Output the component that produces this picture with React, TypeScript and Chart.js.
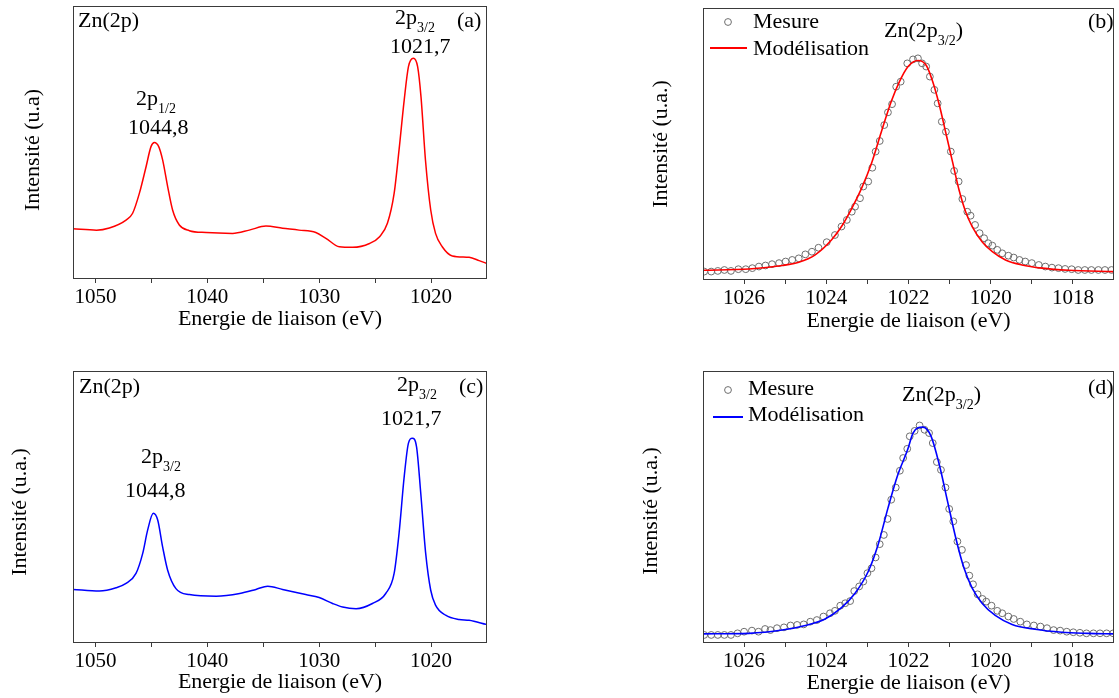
import React, { useEffect, useRef } from "react";
import { Chart, registerables } from "chart.js";
Chart.register(...registerables);

const SERIF = "'Liberation Serif', 'Times New Roman', Times, serif";

// ---------- Panel (a): wide Zn 2p spectrum (red) ----------
const A_ENERGY = [1052, 1049.9, 1048.75, 1047.26, 1046.67, 1046.07, 1045.47, 1045.03, 1044.73, 1044.34, 1043.99, 1043.54, 1043.1, 1042.5, 1041.6, 1040.1, 1037.74, 1036.25, 1034.76, 1033.27, 1031.8, 1030.3, 1029.4, 1028.2, 1027.0, 1025.5, 1024.6, 1023.9, 1023.3, 1022.86, 1022.4, 1022.02, 1021.58, 1021.2, 1020.9, 1020.5, 1020.03, 1019.6, 1019.0, 1018.1, 1016.6, 1015.7, 1015.06];
const A_INTENSITY = [18.1, 17.6, 18.4, 21.3, 23.8, 31.1, 40.9, 48.3, 49.8, 48.3, 43.4, 33.6, 25, 19.5, 17.4, 16.7, 16.4, 17.6, 19.1, 18.3, 17.6, 16.7, 14.6, 11.5, 11.3, 12.7, 15.2, 20.1, 31.1, 47.1, 65.4, 77.7, 80.8, 77.7, 66.7, 43.4, 25, 16.4, 11.5, 8.1, 7.6, 6.4, 5.4];

// ---------- Panel (c): wide Zn 2p spectrum (blue) ----------
const C_ENERGY = [1052, 1049.64, 1048.15, 1047.26, 1046.37, 1045.77, 1045.33, 1044.82, 1044.43, 1043.99, 1043.54, 1042.8, 1041.6, 1039.2, 1037.1, 1035.65, 1034.6, 1033.27, 1031.2, 1030, 1028.8, 1027.9, 1026.7, 1025.24, 1024.05, 1023.3, 1022.86, 1022.4, 1022.02, 1021.67, 1021.3, 1020.92, 1020.48, 1020.03, 1019.6, 1018.7, 1017.5, 1016.6, 1015.06];
const C_INTENSITY = [19.4, 18.8, 20.0, 21.6, 25.3, 32.7, 41.3, 47.5, 45, 35.1, 26.5, 19.7, 17.5, 16.9, 17.9, 19.4, 20.6, 19.4, 17.5, 16.4, 14.2, 12.9, 12.3, 14.2, 17.9, 25.3, 40.1, 61.0, 73.4, 75.2, 72.1, 54.9, 32.7, 19.1, 13.6, 9.9, 8.3, 8.0, 6.5];

// ---------- Panel (b): Zn 2p3/2 measured + fit ----------
const B_MEAS_ENERGY = [1026.97, 1026.8, 1026.64, 1026.48, 1026.32, 1026.14, 1025.96, 1025.8, 1025.64, 1025.48, 1025.32, 1025.15, 1024.99, 1024.83, 1024.67, 1024.51, 1024.35, 1024.19, 1023.99, 1023.79, 1023.63, 1023.5, 1023.38, 1023.3, 1023.18, 1023.1, 1022.98, 1022.88, 1022.8, 1022.7, 1022.59, 1022.5, 1022.4, 1022.3, 1022.19, 1022.03, 1021.89, 1021.77, 1021.67, 1021.57, 1021.48, 1021.37, 1021.29, 1021.19, 1021.09, 1020.97, 1020.89, 1020.78, 1020.69, 1020.57, 1020.49, 1020.38, 1020.27, 1020.16, 1020.06, 1019.96, 1019.84, 1019.72, 1019.57, 1019.44, 1019.3, 1019.16, 1019.0, 1018.83, 1018.67, 1018.51, 1018.35, 1018.19, 1018.03, 1017.87, 1017.71, 1017.55, 1017.38, 1017.22, 1017.06];
const B_MEAS_INTENSITY = [0.5, 0.5, 0.75, 1.1, 0.75, 1.4, 1.4, 1.8, 2.4, 2.8, 3.3, 3.7, 4.3, 4.9, 5.5, 7.0, 8.0, 9.5, 11.6, 14.3, 17.5, 20, 23.1, 25, 28.2, 32.6, 34.5, 39.7, 45.8, 49.8, 55.8, 60.6, 63.7, 70.3, 72.2, 79.1, 80.6, 81.0, 79.1, 77.9, 74.1, 69.1, 64.0, 57.1, 53.3, 45.8, 38.5, 34.5, 27.9, 23.1, 21.6, 18.1, 15.0, 13.1, 11.2, 10.3, 8.7, 7.4, 6.5, 5.8, 4.9, 4.3, 3.7, 3.0, 2.4, 2.0, 1.8, 1.5, 1.4, 1.1, 1.1, 1.1, 1.1, 1.1, 1.1];
const B_FIT_ENERGY = [1027, 1025.88, 1025.07, 1024.67, 1024.27, 1023.87, 1023.63, 1023.38, 1023.14, 1022.9, 1022.66, 1022.42, 1022.22, 1022.01, 1021.77, 1021.57, 1021.41, 1021.25, 1021.09, 1020.93, 1020.77, 1020.61, 1020.45, 1020.21, 1019.96, 1019.64, 1019.24, 1018.75, 1018.11, 1017];
const B_FIT_INTENSITY = [1.0, 1.5, 2.8, 4.0, 6.8, 12.5, 17.5, 24.4, 32, 41.4, 53.3, 64.7, 72.2, 77.9, 80.2, 78.4, 72.2, 63.4, 52.7, 42, 31.3, 23.1, 17.5, 11.8, 8.0, 4.9, 3.0, 1.8, 1.0, 0.5];

// ---------- Panel (d): Zn 2p3/2 measured + fit ----------
const D_MEAS_ENERGY = [1026.97, 1026.8, 1026.64, 1026.48, 1026.32, 1026.16, 1026.0, 1025.81, 1025.65, 1025.49, 1025.36, 1025.2, 1025.03, 1024.87, 1024.71, 1024.55, 1024.39, 1024.23, 1024.07, 1023.91, 1023.79, 1023.66, 1023.54, 1023.42, 1023.32, 1023.2, 1023.1, 1023.0, 1022.9, 1022.8, 1022.7, 1022.6, 1022.51, 1022.42, 1022.31, 1022.21, 1022.13, 1022.03, 1021.97, 1021.85, 1021.73, 1021.61, 1021.5, 1021.41, 1021.31, 1021.21, 1021.1, 1021.01, 1020.91, 1020.81, 1020.7, 1020.6, 1020.52, 1020.43, 1020.32, 1020.2, 1020.11, 1019.98, 1019.84, 1019.72, 1019.57, 1019.44, 1019.28, 1019.12, 1018.95, 1018.79, 1018.63, 1018.47, 1018.31, 1018.15, 1017.99, 1017.83, 1017.67, 1017.5, 1017.34, 1017.18, 1017.02];
const D_MEAS_INTENSITY = [2.6, 2.6, 2.6, 2.6, 2.6, 3.2, 3.8, 4.2, 3.8, 4.8, 4.4, 5.1, 5.4, 6.1, 6.3, 6.5, 7.5, 8.1, 9.4, 10.6, 11.5, 13.4, 14.3, 15.1, 18.8, 20.5, 22.3, 25.4, 27.2, 31.2, 36.1, 39.5, 45.4, 52.5, 57.0, 63.2, 67.9, 71.3, 75.9, 77.9, 79.9, 78.3, 77.1, 73.4, 66.4, 63.5, 57.0, 49.1, 44.5, 37.1, 34.0, 28.4, 24.5, 21.3, 17.6, 15.9, 14.9, 13.4, 11.5, 10.6, 9.4, 8.5, 7.5, 6.5, 6.1, 5.7, 5.1, 4.4, 4.2, 3.8, 3.6, 3.4, 3.2, 3.2, 3.2, 3.2, 3.2];
const D_FIT_ENERGY = [1027, 1025.88, 1025.07, 1024.51, 1024.03, 1023.63, 1023.3, 1022.98, 1022.74, 1022.5, 1022.26, 1022.02, 1021.89, 1021.65, 1021.45, 1021.25, 1021.05, 1020.85, 1020.65, 1020.45, 1020.21, 1019.89, 1019.48, 1018.92, 1018.27, 1017.63, 1017];
const D_FIT_INTENSITY = [3.0, 3.2, 4.4, 6.1, 8.5, 12.7, 18.0, 26.0, 35.9, 49.4, 61.7, 71.0, 77.1, 79.3, 75.9, 65.4, 51.9, 38.4, 27.3, 19.9, 14.3, 9.8, 6.5, 4.7, 3.6, 3.2, 3.0];

// ---------- Tick values and labels ----------
const WIDE_MAJOR_TICKS = [1050, 1040, 1030, 1020];
const WIDE_MINOR_TICKS = [1045, 1035, 1025];
const WIDE_TICK_LABELS = ["1050", "1040", "1030", "1020"];
const ZOOM_MAJOR_TICKS = [1026, 1024, 1022, 1020, 1018];
const ZOOM_MINOR_TICKS = [1025, 1023, 1021, 1019];
const ZOOM_TICK_LABELS = ["1026", "1024", "1022", "1020", "1018"];

const X_TITLE = "Energie de liaison (eV)";

type Part = { t: string; sub?: boolean };
type Note = { x: number; y: number; parts: Part[] };
type Legend = { color: string; circle: [number, number]; line: [number, number, number]; mesure: [number, number]; model: [number, number] };
type PanelCfg = {
  box: { left: number; top: number; width: number; height: number };
  area: { l: number; r: number; t: number; b: number };
  xMin: number; xMax: number; yMin: number; yMax: number;
  major: number[]; minor: number[]; labels: string[];
  datasets: any[];
  yTitle: string; yTitleAt: [number, number]; xTitleY: number;
  notes: Note[];
  legend?: Legend;
};

const pts = (xs: number[], ys: number[]) => xs.map((x, i) => ({ x, y: ys[i] }));

const lineDs = (xs: number[], ys: number[], color: string, width: number) => ({
  data: pts(xs, ys),
  showLine: true,
  borderColor: color,
  borderWidth: width,
  pointRadius: 0,
  cubicInterpolationMode: "monotone",
  fill: false,
});
const circleDs = (xs: number[], ys: number[]) => ({
  data: pts(xs, ys),
  showLine: false,
  pointRadius: 3.4,
  pointStyle: "circle",
  pointBorderWidth: 1,
  borderColor: "#6e6e6e",
  backgroundColor: "rgba(0,0,0,0)",
});

const PANELS: PanelCfg[] = [
  {
    box: { left: 0, top: 0, width: 560, height: 349 },
    area: { l: 73, r: 487, t: 6, b: 278 },
    xMin: 1015, xMax: 1052, yMin: 0, yMax: 100,
    major: WIDE_MAJOR_TICKS, minor: WIDE_MINOR_TICKS, labels: WIDE_TICK_LABELS,
    datasets: [lineDs(A_ENERGY, A_INTENSITY, "#ff0000", 1.5)],
    yTitle: "Intensité (u.a)", yTitleAt: [33, 150], xTitleY: 325,
    notes: [
      { x: 78, y: 27, parts: [{ t: "Zn(2p)" }] },
      { x: 457, y: 27, parts: [{ t: "(a)" }] },
      { x: 395, y: 24, parts: [{ t: "2p" }, { t: "3/2", sub: true }] },
      { x: 390, y: 53, parts: [{ t: "1021,7" }] },
      { x: 136, y: 105, parts: [{ t: "2p" }, { t: "1/2", sub: true }] },
      { x: 128, y: 134, parts: [{ t: "1044,8" }] },
    ],
  },
  {
    box: { left: 560, top: 0, width: 559, height: 349 },
    area: { l: 703, r: 1117, t: 8, b: 279 },
    xMin: 1017, xMax: 1027, yMin: -2.3, yMax: 100,
    major: ZOOM_MAJOR_TICKS, minor: ZOOM_MINOR_TICKS, labels: ZOOM_TICK_LABELS,
    datasets: [lineDs(B_FIT_ENERGY, B_FIT_INTENSITY, "#ff0000", 1.6), circleDs(B_MEAS_ENERGY, B_MEAS_INTENSITY)],
    yTitle: "Intensité (u.a.)", yTitleAt: [661, 144], xTitleY: 327,
    notes: [
      { x: 1088, y: 28, parts: [{ t: "(b)" }] },
      { x: 884, y: 37, parts: [{ t: "Zn(2p" }, { t: "3/2", sub: true }, { t: ")" }] },
    ],
    legend: { color: "#ff0000", circle: [728, 22], line: [710, 747, 48], mesure: [753, 28], model: [753, 55] },
  },
  {
    box: { left: 0, top: 349, width: 560, height: 349 },
    area: { l: 73, r: 487, t: 371, b: 642 },
    xMin: 1015, xMax: 1052, yMin: 0, yMax: 100,
    major: WIDE_MAJOR_TICKS, minor: WIDE_MINOR_TICKS, labels: WIDE_TICK_LABELS,
    datasets: [lineDs(C_ENERGY, C_INTENSITY, "#0000ff", 1.5)],
    yTitle: "Intensité (u.a.)", yTitleAt: [20, 512], xTitleY: 688,
    notes: [
      { x: 79, y: 393, parts: [{ t: "Zn(2p)" }] },
      { x: 459, y: 393, parts: [{ t: "(c)" }] },
      { x: 397, y: 391, parts: [{ t: "2p" }, { t: "3/2", sub: true }] },
      { x: 381, y: 425, parts: [{ t: "1021,7" }] },
      { x: 141, y: 463, parts: [{ t: "2p" }, { t: "3/2", sub: true }] },
      { x: 125, y: 497, parts: [{ t: "1044,8" }] },
    ],
  },
  {
    box: { left: 560, top: 349, width: 559, height: 349 },
    area: { l: 703, r: 1117, t: 371, b: 642 },
    xMin: 1017, xMax: 1027, yMin: 0, yMax: 100,
    major: ZOOM_MAJOR_TICKS, minor: ZOOM_MINOR_TICKS, labels: ZOOM_TICK_LABELS,
    datasets: [lineDs(D_FIT_ENERGY, D_FIT_INTENSITY, "#0000ff", 1.6), circleDs(D_MEAS_ENERGY, D_MEAS_INTENSITY)],
    yTitle: "Intensité (u.a.)", yTitleAt: [651, 511], xTitleY: 689,
    notes: [
      { x: 1088, y: 394, parts: [{ t: "(d)" }] },
      { x: 902, y: 401, parts: [{ t: "Zn(2p" }, { t: "3/2", sub: true }, { t: ")" }] },
    ],
    legend: { color: "#0000ff", circle: [728, 390], line: [713, 743, 417], mesure: [748, 395], model: [748, 421] },
  },
];

const TEXT_SIZE = 22;
const SUB_SIZE = 14;

function drawParts(ctx: CanvasRenderingContext2D, x: number, y: number, parts: Part[]) {
  let cx = x;
  for (const p of parts) {
    ctx.font = `${p.sub ? SUB_SIZE : TEXT_SIZE}px ${SERIF}`;
    ctx.fillText(p.t, cx, p.sub ? y + 8 : y);
    cx += ctx.measureText(p.t).width;
  }
}

function Panel({ cfg }: { cfg: PanelCfg }) {
  const ref = useRef<HTMLCanvasElement | null>(null);
  useEffect(() => {
    if (!ref.current) return;
    const { box, area } = cfg;
    const ticks = [...cfg.major, ...cfg.minor].sort((a, b) => a - b);
    const labelMap: Record<string, string> = {};
    cfg.major.forEach((v, i) => (labelMap[String(v)] = cfg.labels[i]));
    const xHeight = box.top + box.height - area.b;

    const decor = {
      id: "decor",
      afterDraw(chart: any) {
        const ctx: CanvasRenderingContext2D = chart.ctx;
        const a = chart.chartArea;
        const ox = box.left;
        const oy = box.top;
        ctx.save();
        ctx.strokeStyle = "#3a3a3a";
        ctx.lineWidth = 1;
        ctx.strokeRect(a.left + 0.5, a.top + 0.5, a.right - a.left - 1, a.bottom - a.top);
        ctx.fillStyle = "#000";
        ctx.textBaseline = "alphabetic";
        ctx.textAlign = "left";
        for (const n of cfg.notes) drawParts(ctx, n.x - ox, n.y - oy, n.parts);
        // x title
        ctx.font = `${TEXT_SIZE}px ${SERIF}`;
        ctx.textAlign = "center";
        ctx.fillText(X_TITLE, (a.left + a.right) / 2, cfg.xTitleY - oy);
        // y title
        ctx.save();
        ctx.translate(cfg.yTitleAt[0] - ox, cfg.yTitleAt[1] - oy);
        ctx.rotate(-Math.PI / 2);
        ctx.textBaseline = "middle";
        ctx.fillText(cfg.yTitle, 0, 0);
        ctx.restore();
        // legend
        if (cfg.legend) {
          const L = cfg.legend;
          ctx.beginPath();
          ctx.arc(L.circle[0] - ox, L.circle[1] - oy, 3.4, 0, Math.PI * 2);
          ctx.strokeStyle = "#6e6e6e";
          ctx.lineWidth = 1;
          ctx.stroke();
          ctx.beginPath();
          ctx.moveTo(L.line[0] - ox, L.line[2] - oy);
          ctx.lineTo(L.line[1] - ox, L.line[2] - oy);
          ctx.strokeStyle = L.color;
          ctx.lineWidth = 2;
          ctx.stroke();
          ctx.textAlign = "left";
          ctx.textBaseline = "alphabetic";
          ctx.font = `${TEXT_SIZE}px ${SERIF}`;
          ctx.fillText("Mesure", L.mesure[0] - ox, L.mesure[1] - oy);
          ctx.fillText("Modélisation", L.model[0] - ox, L.model[1] - oy);
        }
        ctx.restore();
      },
    };

    const chart = new Chart(ref.current, {
      type: "scatter",
      data: { datasets: cfg.datasets as any },
      options: {
        animation: false,
        responsive: false,
        devicePixelRatio: 1,
        layout: {
          padding: {
            left: area.l - box.left,
            right: box.left + box.width - area.r,
            top: area.t - box.top,
            bottom: 0,
          },
        },
        plugins: { legend: { display: false }, tooltip: { enabled: false }, title: { display: false } },
        scales: {
          x: {
            type: "linear",
            min: cfg.xMin,
            max: cfg.xMax,
            reverse: true,
            afterBuildTicks: (s: any) => {
              s.ticks = ticks.map((v) => ({ value: v }));
            },
            afterFit: (s: any) => {
              s.height = xHeight;
              s.paddingLeft = 0;
              s.paddingRight = 0;
            },
            ticks: {
              autoSkip: false,
              maxRotation: 0,
              minRotation: 0,
              padding: 2,
              color: "#000",
              font: { family: SERIF, size: 21 },
              callback: (v: any) => labelMap[String(v)] ?? "",
            },
            grid: { drawOnChartArea: false, drawTicks: true, tickLength: 5, color: "#3a3a3a" },
            border: { display: false },
          },
          y: { display: false, min: cfg.yMin, max: cfg.yMax },
        },
      },
      plugins: [decor],
    } as any);
    return () => chart.destroy();
  }, [cfg]);
  return (
    <canvas
      ref={ref}
      width={cfg.box.width}
      height={cfg.box.height}
      style={{ position: "absolute", left: cfg.box.left, top: cfg.box.top, width: cfg.box.width, height: cfg.box.height }}
    />
  );
}

export default function App() {
  return (
    <div style={{ position: "absolute", left: 0, top: 0, width: 1119, height: 698, background: "#fff", overflow: "hidden" }}>
      {PANELS.map((p, i) => (
        <Panel key={i} cfg={p} />
      ))}
    </div>
  );
}
